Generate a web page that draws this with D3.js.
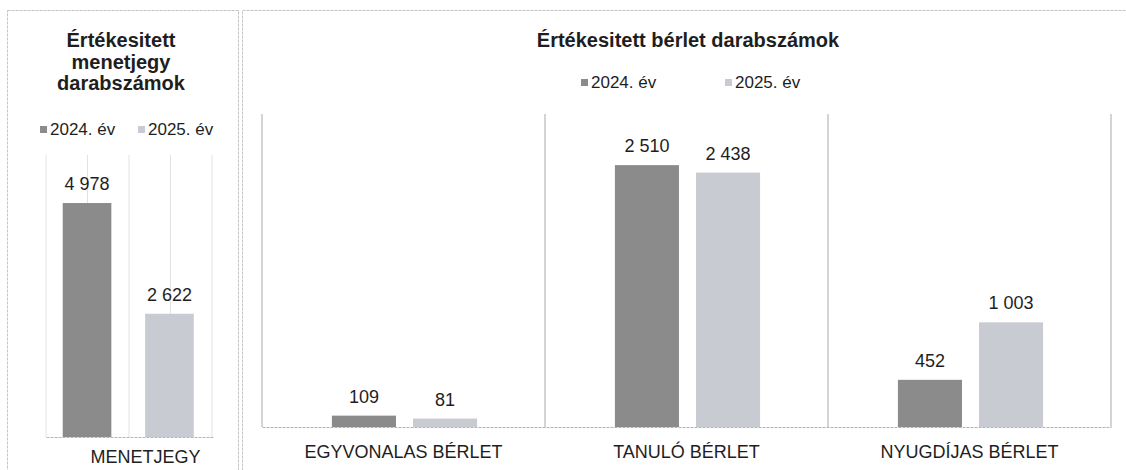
<!DOCTYPE html>
<html>
<head>
<meta charset="utf-8">
<script src="https://cdn.jsdelivr.net/npm/d3@7"></script>
<style>
  body { margin: 0; background: #fff; }
  text { font-family: "Liberation Sans", Arial, sans-serif; fill: #1e1e1e; }
</style>
</head>
<body>
<div id="chart"></div>
<script>
// data
var years = ["2024. év", "2025. év"];
var ticketCats = ["MENETJEGY"];
var ticket2024 = [4978];
var ticket2025 = [2622];
var passCats = ["EGYVONALAS BÉRLET", "TANULÓ BÉRLET", "NYUGDÍJAS BÉRLET"];
var pass2024 = [109, 2510, 452];
var pass2025 = [81, 2438, 1003];

var W = 1126, H = 470;
var colors = ["#8b8b8b", "#c9cbd3"];
var fmt = d3.formatLocale({decimal: ",", thousands: " ", grouping: [3], currency: ["", ""]}).format(",");

var svg = d3.select("#chart").append("svg")
    .attr("width", W)
    .attr("height", H);

svg.append("rect").attr("width", W).attr("height", H).attr("fill", "#fff");

// panel frames
svg.append("rect")
    .attr("x", 7.5).attr("y", 10.5).attr("width", 231).attr("height", 470)
    .attr("fill", "none").attr("stroke", "#c4c4c4").attr("stroke-dasharray", "3,1");
svg.append("rect")
    .attr("x", 242.5).attr("y", 10.5).attr("width", 900).attr("height", 470)
    .attr("fill", "none").attr("stroke", "#c4c4c4").attr("stroke-dasharray", "3,1");

function drawChart(o) {
    var g = svg.append("g");
    var rows = o.cats.map(function(c, i) { return [o.a[i], o.b[i]]; });

    var x0 = d3.scaleBand().domain(o.cats).range([o.left, o.right]);
    var x1 = d3.scaleBand().domain(years)
        .range([x0.bandwidth() * o.inner[0], x0.bandwidth() * o.inner[1]])
        .paddingInner(o.gap);
    var y = d3.scaleLinear().domain([0, o.max]).range([o.bottom, o.top]);

    // vertical lines
    g.selectAll("line.v")
        .data(o.vlines)
        .enter()
        .append("line")
        .attr("x1", function(d) { return d; })
        .attr("x2", function(d) { return d; })
        .attr("y1", o.top)
        .attr("y2", o.bottom)
        .attr("stroke", o.vcolor)
        .attr("stroke-width", 1);

    // bars
    var grp = g.selectAll("g.cat")
        .data(rows)
        .enter()
        .append("g")
        .attr("transform", function(d, i) { return "translate(" + x0(o.cats[i]) + ",0)"; });

    grp.selectAll("rect")
        .data(function(d) { return d; })
        .enter()
        .append("rect")
        .attr("x", function(d, i) { return x1(years[i]); })
        .attr("y", function(d) { return y(d); })
        .attr("width", x1.bandwidth())
        .attr("height", function(d) { return o.bottom - y(d); })
        .attr("fill", function(d, i) { return colors[i]; });

    grp.selectAll("text")
        .data(function(d) { return d; })
        .enter()
        .append("text")
        .attr("x", function(d, i) { return x1(years[i]) + x1.bandwidth() / 2; })
        .attr("y", function(d) { return y(d) - 13; })
        .attr("text-anchor", "middle")
        .attr("font-size", "18px")
        .text(function(d) { return fmt(d); });

    // x axis
    var ax = g.append("g")
        .attr("transform", "translate(0," + o.bottom + ")")
        .call(d3.axisBottom(x0).tickSize(0).tickPadding(o.labelPad));
    ax.select(".domain").attr("stroke", "#b5b5b5").attr("stroke-dasharray", "3,1");
    ax.selectAll("text")
        .attr("font-size", "18px")
        .attr("font-family", "Liberation Sans, Arial, sans-serif")
        .attr("fill", "#1e1e1e")
        .attr("dx", o.labelShift);

    // title
    var t = g.append("text")
        .attr("x", o.titleX)
        .attr("y", o.titleY)
        .attr("text-anchor", "middle")
        .attr("font-size", "20px")
        .attr("font-weight", "bold");
    o.title.forEach(function(line, i) {
        t.append("tspan").attr("x", o.titleX).attr("y", o.titleY + i * 21.5).text(line);
    });

    // legend
    years.forEach(function(yr, i) {
        g.append("rect")
            .attr("x", o.legendX[i])
            .attr("y", o.legendY - 9)
            .attr("width", 7)
            .attr("height", 7)
            .attr("fill", colors[i]);
        g.append("text")
            .attr("x", o.legendX[i] + 10)
            .attr("y", o.legendY)
            .attr("font-size", "17px")
            .text(yr);
    });
}

// left: tickets
drawChart({
    cats: ticketCats, a: ticket2024, b: ticket2025,
    left: 46, right: 213, top: 155, bottom: 437, max: 6000,
    inner: [0.1, 0.885], gap: 0.41,
    vlines: [46, 87.5, 129, 170.5, 212], vcolor: "#e2e2e2",
    labelShift: 16, labelPad: 13,
    title: ["Értékesitett", "menetjegy", "darabszámok"], titleX: 121, titleY: 47,
    legendX: [40, 138], legendY: 135
});

// right: passes
drawChart({
    cats: passCats, a: pass2024, b: pass2025,
    left: 262, right: 1111, top: 114, bottom: 427, max: 3000,
    inner: [0.247, 0.76], gap: 0.21,
    vlines: [262, 545, 828, 1111], vcolor: "#a9a9a9",
    labelShift: 0, labelPad: 18,
    title: ["Értékesitett bérlet darabszámok"], titleX: 688, titleY: 47,
    legendX: [581, 725], legendY: 88
});
</script>
</body>
</html>
